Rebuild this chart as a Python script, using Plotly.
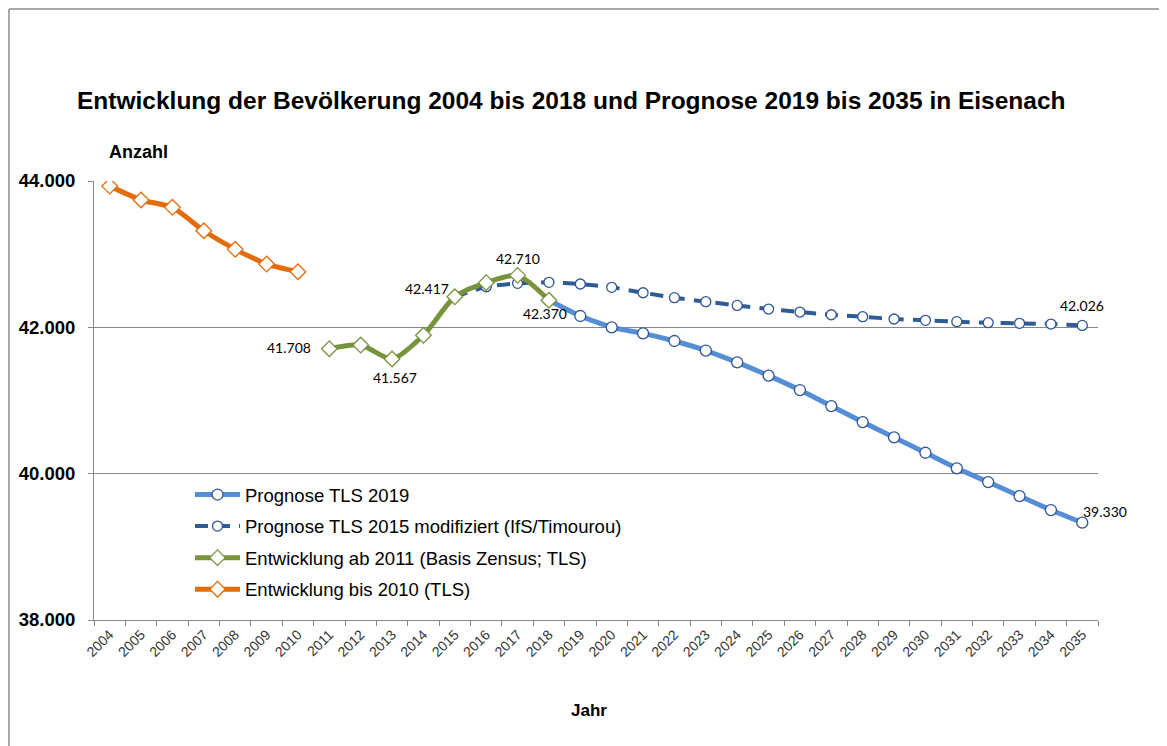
import plotly.graph_objects as go

# ---------------- data ----------------
years_hist = [2004, 2005, 2006, 2007, 2008, 2009, 2010]
pop_hist = [43930, 43740, 43640, 43320, 43066, 42865, 42760]

years_zensus = [2011, 2012, 2013, 2014, 2015, 2016, 2017, 2018]
pop_zensus = [41708, 41758, 41567, 41891, 42417, 42610, 42710, 42370]

years_tls2019 = list(range(2018, 2036))
pop_tls2019 = [42370, 42155, 42000, 41918, 41813, 41683, 41521, 41340, 41143,
               40924, 40705, 40496, 40286, 40073, 39885, 39694, 39503, 39330]

years_tls2015 = list(range(2015, 2036))
pop_tls2015 = [42417, 42555, 42601, 42615, 42592, 42547, 42473, 42405, 42350,
               42300, 42250, 42209, 42172, 42145, 42114, 42096, 42077, 42063,
               42055, 42045, 42026]

tick_years = list(range(2004, 2036))
y_ticks = [38000, 40000, 42000, 44000]

title_text = "Entwicklung der Bevölkerung 2004 bis 2018 und Prognose 2019 bis 2035 in Eisenach"
names = ["Prognose TLS 2019",
         "Prognose TLS 2015 modifiziert (IfS/Timourou)",
         "Entwicklung ab 2011 (Basis Zensus; TLS)",
         "Entwicklung bis 2010 (TLS)"]

# ---------------- figure ----------------
C_BLUE = "#558ED5"
C_DBLUE = "#2E5C94"
C_GREEN = "#77933C"
C_ORANGE = "#E46C0A"

fig = go.Figure()

fig.add_trace(go.Scatter(
    x=years_tls2019, y=pop_tls2019, name=names[0], legendgroup="a",
    mode="lines+markers",
    line=dict(color=C_BLUE, width=5, shape="spline", smoothing=0.5),
    marker=dict(symbol="circle", size=11, color="white",
                line=dict(color="#2F5597", width=1.3)),
))
fig.add_trace(go.Scatter(
    x=years_tls2015, y=pop_tls2015, name=names[1], legendgroup="b",
    mode="lines+markers",
    line=dict(color=C_DBLUE, width=4, dash="13px,9px", shape="spline", smoothing=0.5),
    marker=dict(symbol="circle", size=10, color="white",
                line=dict(color="#2F5597", width=1.3)),
))
fig.add_trace(go.Scatter(
    x=years_zensus, y=pop_zensus, name=names[2], legendgroup="c",
    mode="lines+markers",
    line=dict(color=C_GREEN, width=5, shape="spline", smoothing=0.7),
    marker=dict(symbol="diamond", size=12, color="white",
                line=dict(color=C_GREEN, width=1.3)),
))
fig.add_trace(go.Scatter(
    x=years_hist, y=pop_hist, name=names[3], legendgroup="d",
    mode="lines+markers",
    line=dict(color=C_ORANGE, width=5, shape="spline", smoothing=0.5),
    marker=dict(symbol="diamond", size=12, color="white",
                line=dict(color=C_ORANGE, width=1.3)),
))


def de(v):
    return f"{v:,}".replace(",", ".")


# data labels: (x, y, xshift, yshift, xanchor)
label_specs = [
    (years_zensus[0], pop_zensus[0], -16, 1, "right"),
    (years_zensus[2], pop_zensus[2], 3, -18, "center"),
    (years_zensus[4], pop_zensus[4], -28, 8, "center"),
    (years_zensus[6], pop_zensus[6], 0, 17, "center"),
    (years_zensus[7], pop_zensus[7], -4, -13, "center"),
    (years_tls2015[-1], pop_tls2015[-1], 0, 20, "center"),
    (years_tls2019[-1], pop_tls2019[-1], 23, 11, "center"),
]
for x, y, xs, ys, xa in label_specs:
    fig.add_annotation(x=x, y=y, xref="x", yref="y", text=de(y), showarrow=False,
                       xshift=xs, yshift=ys, xanchor=xa, yanchor="middle",
                       font=dict(family="Lato", size=14, color="black"))

W, H = 1167, 746
OFF = 8  # page body margin
# target plot area on screen: x 94..1098, y 181..620
L = 94 - OFF
T = 181 - OFF
R = W - (1098 - OFF)
B = H - (620 - OFF)
PW, PH = W - L - R, H - T - B


def px(xs):
    return (xs - OFF - L) / PW


def py(ys):
    return (H - B - (ys - OFF)) / PH


# title
fig.add_annotation(xref="paper", yref="paper", x=px(571), y=py(100), text=title_text,
                   showarrow=False, xanchor="center", yanchor="middle",
                   font=dict(family="Liberation Sans", size=24.5, color="black", weight="bold"))
# axis titles
fig.add_annotation(xref="paper", yref="paper", x=px(107), y=py(152), text="Anzahl",
                   showarrow=False, xanchor="left", yanchor="middle",
                   font=dict(family="Liberation Sans", size=18, color="black", weight="bold"))
fig.add_annotation(xref="paper", yref="paper", x=px(589), y=py(710), text="Jahr",
                   showarrow=False, xanchor="center", yanchor="middle",
                   font=dict(family="Liberation Sans", size=17, color="black", weight="bold"))

# outer frame (top and left edges) - as close to the figure edge as possible
fig.add_shape(type="line", xref="paper", yref="paper", x0=px(9), x1=px(1200),
              y0=py(9), y1=py(9), line=dict(color="#8C8C8C", width=1.5))
fig.add_shape(type="line", xref="paper", yref="paper", x0=px(9), x1=px(9),
              y0=py(9), y1=py(760), line=dict(color="#8C8C8C", width=1.5))

fig.update_layout(
    width=W, height=H,
    margin=dict(l=L, r=R, t=T, b=B),
    paper_bgcolor="white", plot_bgcolor="white",
    separators=",.",
    showlegend=True,
    legend=dict(x=px(190), y=py(476), xanchor="left", yanchor="top",
                font=dict(family="Liberation Sans", size=18.5, color="black"),
                bgcolor="rgba(0,0,0,0)", tracegroupgap=4.5, itemwidth=45,
                traceorder="grouped"),
    xaxis=dict(range=[2003.5, 2035.5], tickvals=tick_years,
               ticktext=[str(y) for y in tick_years], tickangle=-45,
               tickfont=dict(family="Liberation Sans", size=14, color="#333333"),
               showgrid=False, zeroline=False, showline=True, linecolor="#868686",
               linewidth=1, ticks="",
               minor=dict(tickvals=[y - 0.5 for y in tick_years] + [2035.5],
                          ticks="outside", ticklen=5, tickcolor="#868686", showgrid=False)),
    yaxis=dict(range=[38000, 44000], tickvals=y_ticks, tickformat=",d",
               tickfont=dict(family="Liberation Sans", size=18.5, color="black", weight="bold"),
               showgrid=True, gridcolor="#868686", gridwidth=1, zeroline=False,
               showline=True, linecolor="#868686", linewidth=1,
               ticks="outside", ticklen=5, tickcolor="#868686", ticklabelstandoff=9),
)

fig.write_html("out.html")
